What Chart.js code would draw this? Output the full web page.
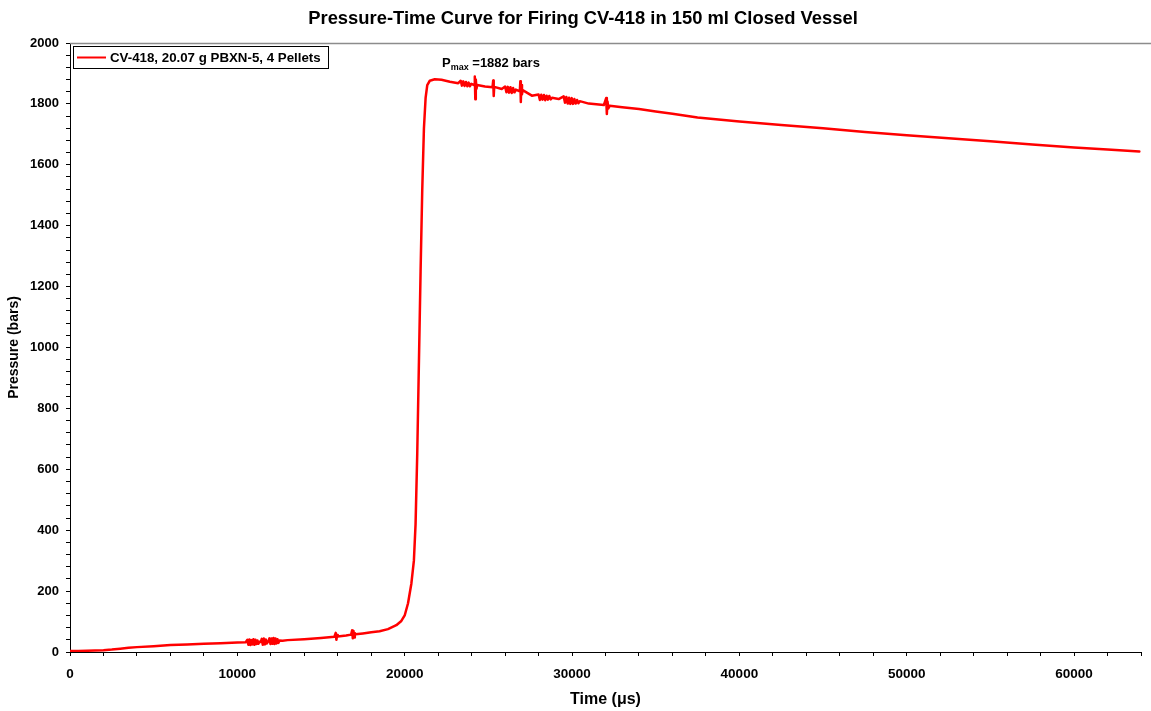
<!DOCTYPE html>
<html>
<head>
<meta charset="utf-8">
<title>Pressure-Time Curve</title>
<script src="https://cdn.jsdelivr.net/npm/chart.js@4.4.1/dist/chart.umd.min.js"></script>
<style>
  html, body { margin: 0; padding: 0; background: #ffffff; }
  #wrap { width: 1151px; height: 711px; }
</style>
</head>
<body>
<div id="wrap"><canvas id="cv" width="1151" height="711"></canvas></div>
<script>
// Recorded closed-vessel trace: time (µs) and pressure (bars)
const timeUs = [
  0, 500, 1000, 1500, 2000, 2500, 3000, 3500, 4000, 5000, 6000, 7000, 8000, 9000, 10000, 10500,
  10600, 10660, 10720, 10780, 10840, 10900, 10960, 11020, 11080, 11140, 11200, 11260, 11320,
  11400,
  11460, 11520, 11580, 11640, 11700, 11760,
  11850,
  11920, 11980, 12040, 12100, 12160, 12220, 12280, 12340, 12400, 12460, 12520,
  12700, 13000, 14000, 15000, 15800,
  15880, 15920, 15960, 16000,
  16500, 16800,
  16860, 16900, 16940, 16980, 17020, 17060,
  17500, 18000, 18500, 19000, 19500, 19800, 20000, 20200, 20400, 20550, 20650, 20750, 20850,
  20950, 21050, 21150, 21250, 21350, 21500, 21800, 22200, 22700, 23200,
  23350, 23420, 23500, 23580, 23660, 23740, 23820, 23900, 23980,
  24150,
  24190, 24220, 24250, 24290, 24330,
  24800, 25250,
  25290, 25320, 25350,
  25800,
  26000, 26080, 26160, 26240, 26320, 26400, 26480, 26560, 26640,
  26880,
  26910, 26940, 26970, 27010, 27050,
  27600,
  28000, 28080, 28160, 28240, 28320, 28400, 28480, 28560, 28640, 28720, 28800,
  29200,
  29500, 29580, 29660, 29740, 29820, 29900, 29980, 30060, 30140, 30220, 30300, 30380, 30460,
  31000, 31900,
  32040, 32080, 32120, 32170, 32250,
  33000, 34000, 35000, 36000, 37500, 40000, 42500, 45000, 47500, 50000, 52500, 55000,
  57500, 60000, 62000, 63900
];
const pressureBar = [
  3, 3, 4, 5, 6, 8, 11, 14, 16, 19, 23, 25, 27, 29, 31, 32,
  40, 24, 41, 23, 39, 25, 42, 24, 40, 26, 38, 27, 34,
  33,
  43, 24, 44, 25, 41, 28,
  35,
  45, 26, 44, 27, 46, 26, 44, 28, 42, 30, 38,
  37, 39, 42, 46, 50,
  63, 40, 56, 51,
  54, 57,
  71, 45, 69, 48, 62, 58,
  61, 65, 68, 75, 88, 102, 120, 160, 225, 300, 420, 650, 950,
  1250, 1520, 1720, 1820, 1862, 1876, 1881, 1879, 1873, 1868,
  1876, 1860, 1874, 1859, 1872, 1858, 1870, 1858, 1866,
  1862,
  1890, 1815, 1880, 1850, 1862,
  1857, 1855,
  1877, 1826, 1856,
  1849,
  1857, 1838, 1856, 1837, 1855, 1836, 1852, 1838, 1847,
  1841,
  1874, 1806, 1862, 1832, 1845,
  1827,
  1831, 1813, 1830, 1814, 1829, 1812, 1827, 1814, 1826, 1815, 1820,
  1816,
  1825, 1804, 1823, 1801, 1820, 1800, 1819, 1800, 1816, 1801, 1813, 1802, 1809,
  1801, 1796,
  1819, 1767, 1808, 1785, 1794,
  1789, 1783, 1775, 1768, 1755, 1742, 1731, 1720, 1708, 1697, 1687, 1677,
  1667, 1657, 1650, 1644
];

// Labelled axis ticks (minor ticks fall between them)
const xTickLabels = [0, 10000, 20000, 30000, 40000, 50000, 60000];
const yTickLabels = [0, 200, 400, 600, 800, 1000, 1200, 1400, 1600, 1800, 2000];

const seriesLabel = 'CV-418, 20.07 g PBXN-5, 4 Pellets';
const chartTitle = 'Pressure-Time Curve for Firing CV-418 in 150 ml Closed Vessel';
const peakNote = { time: 22230, pressure: 1922, main: 'P', sub: 'max', rest: ' =1882 bars' };

const FONT = "'Liberation Sans', Arial, sans-serif";

// Title, framed legend, top border and peak note drawn onto the canvas
const decorations = {
  id: 'decorations',
  afterDraw(chart) {
    const { ctx, chartArea, scales } = chart;
    ctx.save();

    // top border of the plot frame
    ctx.strokeStyle = '#8c8c8c';
    ctx.lineWidth = 1.5;
    ctx.beginPath();
    ctx.moveTo(chartArea.left, chartArea.top + 0.5);
    ctx.lineTo(chart.width, chartArea.top + 0.5);
    ctx.stroke();

    // chart title
    ctx.fillStyle = '#000';
    ctx.font = 'bold 18.4px ' + FONT;
    ctx.textAlign = 'center';
    ctx.textBaseline = 'middle';
    ctx.fillText(chartTitle, 583, 19);

    // legend box
    const ds = chart.data.datasets[0];
    const bx = 73, by = 46, bw = 255, bh = 22;
    ctx.fillStyle = '#fff';
    ctx.fillRect(bx, by, bw, bh);
    ctx.strokeStyle = '#000';
    ctx.lineWidth = 1;
    ctx.strokeRect(bx + 0.5, by + 0.5, bw, bh);
    ctx.strokeStyle = ds.borderColor;
    ctx.lineWidth = 2;
    ctx.beginPath();
    ctx.moveTo(bx + 4, by + 11.5);
    ctx.lineTo(bx + 33, by + 11.5);
    ctx.stroke();
    ctx.fillStyle = '#000';
    ctx.font = 'bold 13.3px ' + FONT;
    ctx.textAlign = 'left';
    ctx.textBaseline = 'middle';
    ctx.fillText(ds.label, bx + 37, by + 12);

    // peak pressure note
    const px = scales.x.getPixelForValue(peakNote.time);
    const py = scales.y.getPixelForValue(peakNote.pressure);
    ctx.textBaseline = 'alphabetic';
    ctx.font = 'bold 13px ' + FONT;
    ctx.fillText(peakNote.main, px, py);
    let w = ctx.measureText(peakNote.main).width;
    ctx.font = 'bold 9px ' + FONT;
    ctx.fillText(peakNote.sub, px + w, py + 3);
    w += ctx.measureText(peakNote.sub).width;
    ctx.font = 'bold 13px ' + FONT;
    ctx.fillText(peakNote.rest, px + w, py);

    ctx.restore();
  }
};

new Chart(document.getElementById('cv'), {
  type: 'line',
  data: {
    datasets: [{
      label: seriesLabel,
      data: timeUs.map((t, i) => ({ x: t, y: pressureBar[i] })),
      borderColor: '#ff0000',
      backgroundColor: '#ff0000',
      borderWidth: 2.5,
      borderJoinStyle: 'round',
      borderCapStyle: 'round',
      pointRadius: 0,
      tension: 0,
      fill: false
    }]
  },
  options: {
    responsive: false,
    animation: false,
    devicePixelRatio: 1,
    layout: { padding: { top: 43, right: 8, bottom: 0, left: 0 } },
    plugins: {
      legend: { display: false },
      title: { display: false },
      tooltip: { enabled: false }
    },
    scales: {
      x: {
        type: 'linear',
        min: 0,
        max: 64000,
        afterFit(scale) { scale.height = 59; },
        border: { display: true, color: '#000', width: 1 },
        grid: { display: true, drawOnChartArea: false, drawTicks: true, tickLength: 4, tickColor: '#000', tickWidth: 1 },
        ticks: {
          stepSize: 2000,
          autoSkip: false,
          maxRotation: 0,
          minRotation: 0,
          padding: 10,
          color: '#000',
          font: { family: FONT, size: 13.5, weight: 'bold' },
          callback: (v) => xTickLabels.includes(v) ? String(v) : ''
        },
        title: {
          display: true,
          text: 'Time (\u03bcs)',
          color: '#000',
          font: { family: FONT, size: 16, weight: 'bold' },
          padding: { top: 0, bottom: 2 }
        }
      },
      y: {
        type: 'linear',
        min: 0,
        max: 2000,
        afterFit(scale) { scale.width = 70; },
        border: { display: true, color: '#000', width: 1 },
        grid: { display: true, drawOnChartArea: false, drawTicks: true, tickLength: 4, tickColor: '#000', tickWidth: 1 },
        ticks: {
          stepSize: 40,
          autoSkip: false,
          padding: 7,
          color: '#000',
          font: { family: FONT, size: 13, weight: 'bold' },
          callback: (v) => yTickLabels.includes(v) ? String(v) : ''
        },
        title: {
          display: true,
          text: 'Pressure (bars)',
          color: '#000',
          font: { family: FONT, size: 14, weight: 'bold' },
          padding: { top: 6, bottom: 0 }
        }
      }
    }
  },
  plugins: [decorations]
});
</script>
</body>
</html>
